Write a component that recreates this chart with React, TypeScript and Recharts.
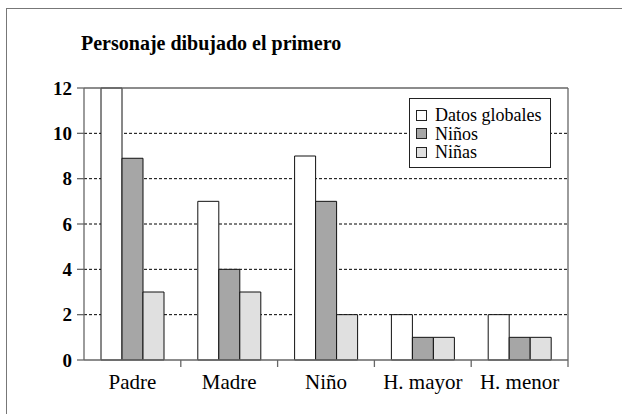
import React from "react";
import {
  BarChart,
  Bar,
  XAxis,
  YAxis,
  CartesianGrid,
  ReferenceLine,
} from "recharts";

const categories = ["Padre", "Madre", "Niño", "H. mayor", "H. menor"];
const globales = [12, 7, 9, 2, 2];
const ninos = [8.9, 4, 7, 1, 1];
const ninas = [3, 3, 2, 1, 1];
const yTicks = [0, 2, 4, 6, 8, 10, 12];
const gridValues = [2, 4, 6, 8, 10];

const data = categories.map((name, i) => ({
  name,
  globales: globales[i],
  ninos: ninos[i],
  ninas: ninas[i],
}));

const W = 622;
const H = 414;
const M = { top: 88, right: 54, bottom: 24, left: 0 };
const Y_AXIS_W = 84;
const X_AXIS_H = 30;
const plotW = W - M.left - M.right - Y_AXIS_W;
const band = plotW / categories.length;
const AXIS_Y = H - M.bottom - X_AXIS_H;
const FONT = "'Liberation Serif', 'Times New Roman', serif";
const AXIS_GRAY = "#666";

const series = [
  { key: "globales", label: "Datos globales", fill: "#ffffff" },
  { key: "ninos", label: "Niños", fill: "#a6a6a6" },
  { key: "ninas", label: "Niñas", fill: "#e0e0e0" },
];

function XTick(props: any) {
  const { x, payload } = props;
  return (
    <g>
      <line
        x1={x + band / 2}
        x2={x + band / 2}
        y1={AXIS_Y}
        y2={AXIS_Y + 7}
        stroke={AXIS_GRAY}
        strokeWidth={1.3}
      />
      <text x={x} y={AXIS_Y + 29} textAnchor="middle" fontFamily={FONT} fontSize={21} fill="#000">
        {payload.value}
      </text>
    </g>
  );
}

function LegendBox() {
  return (
    <div
      style={{
        position: "absolute",
        left: 409,
        top: 98,
        width: 142,
        height: 70,
        border: "1px solid #222",
        background: "#fff",
        boxSizing: "border-box",
        padding: "7px 0 0 6px",
        fontFamily: FONT,
        fontSize: 18,
        lineHeight: "18.5px",
        color: "#000",
        zIndex: 2,
      }}
    >
      {series.map((s) => (
        <div key={s.key} style={{ display: "flex", alignItems: "center", height: 18.5 }}>
          <span
            style={{
              display: "inline-block",
              width: 11,
              height: 11,
              boxSizing: "border-box",
              border: "1px solid #222",
              background: s.fill,
              marginRight: 8,
            }}
          />
          {s.label}
        </div>
      ))}
    </div>
  );
}

export default function App() {
  return (
    <div style={{ position: "absolute", left: 0, top: 0, width: W, height: H, background: "#fff" }}>
      <div
        style={{
          position: "absolute",
          left: 6,
          top: 8,
          width: W - 6,
          height: H - 8,
          borderLeft: "1.5px solid #777",
          borderTop: "1.5px solid #777",
        }}
      />
      <div
        style={{
          position: "absolute",
          left: 81,
          top: 31,
          fontFamily: FONT,
          fontWeight: "bold",
          fontSize: 20,
          lineHeight: "24px",
          color: "#000",
        }}
      >
        Personaje dibujado el primero
      </div>
      <BarChart
        width={W}
        height={H}
        data={data}
        margin={M}
        barGap={0}
        barCategoryGap={17}
        style={{ position: "absolute", left: 0, top: 0 }}
      >
        <CartesianGrid
          vertical={false}
          horizontalValues={gridValues}
          stroke="#000"
          strokeDasharray="3 2"
        />
        <XAxis
          dataKey="name"
          axisLine={{ stroke: AXIS_GRAY, strokeWidth: 1.3 }}
          tickLine={false}
          tick={<XTick />}
          interval={0}
          height={X_AXIS_H}
        />
        <YAxis
          domain={[0, 12]}
          ticks={yTicks}
          width={Y_AXIS_W}
          axisLine={{ stroke: AXIS_GRAY, strokeWidth: 1.3 }}
          tickLine={{ stroke: AXIS_GRAY, strokeWidth: 1.3 }}
          tickSize={7}
          tickMargin={5}
          tick={{ fontFamily: FONT, fontSize: 19, fontWeight: "bold", fill: "#000" }}
          interval={0}
        />
        <ReferenceLine y={12} stroke={AXIS_GRAY} strokeWidth={1.3} />
        <ReferenceLine x="H. menor" position="end" stroke={AXIS_GRAY} strokeWidth={1.3} />
        {series.map((s) => (
          <Bar
            key={s.key}
            dataKey={s.key}
            fill={s.fill}
            stroke="#111"
            strokeWidth={1}
            isAnimationActive={false}
          />
        ))}
      </BarChart>
      <LegendBox />
    </div>
  );
}
